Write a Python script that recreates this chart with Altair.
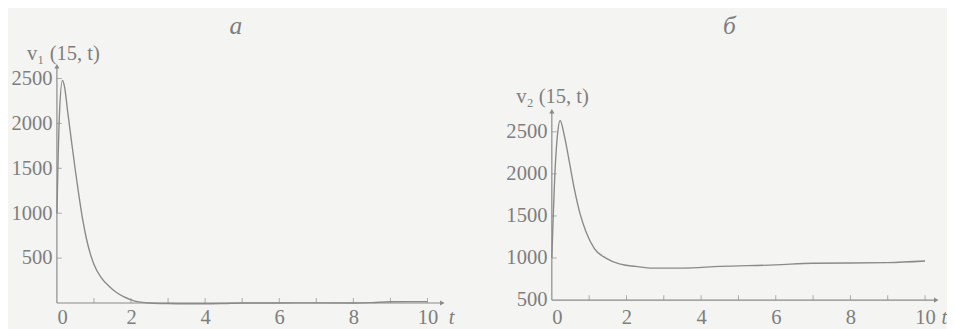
import altair as alt
import pandas as pd

# ---- data ----
t_a = [0, 0.07, 0.15, 0.2, 0.3, 0.4, 0.5, 0.6, 0.7, 0.8, 0.9, 1.0, 1.2, 1.4, 1.6, 1.8, 2.0, 2.2, 2.5,
       3.0, 3.5, 4.0, 4.5, 5.0, 6.0, 7.0, 8.0, 8.5, 9.0, 9.5, 10.0]
v_a = [1000, 2120, 2480, 2420, 2100, 1780, 1470, 1180, 920, 710, 550, 430, 280, 190, 120, 70, 35, 12, 0,
       -6, -8, -8, -5, 0, 0, 2, 0, 5, 14, 15, 15]

t_b = [0, 0.09, 0.15, 0.22, 0.35, 0.48, 0.61, 0.75, 0.92, 1.14, 1.46, 1.81, 2.25, 2.7, 3.5,
       4.5, 6.0, 7.0, 9.0, 10.0]
v_b = [1000, 2075, 2460, 2635, 2422, 2115, 1806, 1536, 1305, 1112, 996, 930, 900, 880, 880,
       900, 918, 938, 945, 964]

x_ticks = [1, 2, 3, 4, 5, 6, 7, 8, 9, 10]
x_labels = [0, 2, 4, 6, 8, 10]
y_ticks_a = [500, 1000, 1500, 2000, 2500]
y_ticks_b = [1000, 1500, 2000, 2500]
y_labels = [500, 1000, 1500, 2000, 2500]

FONT = "Liberation Serif"
INK = "#8a8a8a"
TXT = "#7e7e7e"


def panel(t, v, title, ytitle, xdom, ydom, axis_base, yaxis_top, yticks, w, h,
          title_x, ytx, yty, xtx, xty, xlabpad):
    df = pd.DataFrame({"t": t, "v": v})
    xs = alt.Scale(domain=xdom, nice=False, zero=False)
    ys = alt.Scale(domain=ydom, nice=False, zero=False)
    xax = alt.Axis(values=x_labels, format="d", domain=False, ticks=False, grid=False,
                   labelFont=FONT, labelFontSize=21, labelColor=TXT, labelPadding=xlabpad,
                   title="t", titleFont=FONT, titleFontSize=21, titleFontStyle="italic",
                   titleFontWeight="normal", titleColor=TXT, titleX=xtx, titleY=xty,
                   titleAlign="left", titleBaseline="middle")
    yax = alt.Axis(values=y_labels, format="d", domain=False, ticks=False, grid=False,
                   labelFont=FONT, labelFontSize=21, labelColor=TXT, labelPadding=5,
                   title=ytitle, titleFont=FONT, titleFontSize=21, titleFontWeight="normal",
                   titleColor=TXT, titleAngle=0, titleAlign="left", titleBaseline="middle",
                   titleX=ytx, titleY=yty)
    base = alt.Chart(df)
    line = base.mark_line(color=INK, strokeWidth=1.4, interpolate="monotone").encode(
        x=alt.X("t:Q", scale=xs, axis=xax),
        y=alt.Y("v:Q", scale=ys, axis=yax),
    )
    one = pd.DataFrame({"a": [0]})
    xline = alt.Chart(one).mark_rule(color=INK, strokeWidth=1.2).encode(
        x=alt.datum(0, scale=xs), x2=alt.datum(xdom[1]), y=alt.datum(axis_base, scale=ys))
    yline = alt.Chart(one).mark_rule(color=INK, strokeWidth=1.2).encode(
        x=alt.datum(0, scale=xs), y=alt.datum(axis_base, scale=ys), y2=alt.datum(yaxis_top))
    xt = alt.Chart(pd.DataFrame({"t": x_ticks, "b": [axis_base] * len(x_ticks)})).mark_tick(
        orient="vertical", size=5, thickness=1, color=INK, yOffset=-2.5).encode(
        x=alt.X("t:Q", scale=xs), y=alt.Y("b:Q", scale=ys))
    yt = alt.Chart(pd.DataFrame({"v": yticks, "b": [0] * len(yticks)})).mark_tick(
        orient="horizontal", size=5, thickness=1, color=INK, xOffset=2.5).encode(
        x=alt.X("b:Q", scale=xs), y=alt.Y("v:Q", scale=ys))
    arr_x = alt.Chart(one).mark_point(
        shape="triangle-right", filled=True, size=28, color=INK, opacity=1).encode(
        x=alt.datum(xdom[1], scale=xs), y=alt.datum(axis_base, scale=ys))
    arr_y = alt.Chart(one).mark_point(
        shape="triangle-up", filled=True, size=28, color=INK, opacity=1).encode(
        x=alt.datum(0, scale=xs), y=alt.datum(yaxis_top, scale=ys))
    ttl = alt.Chart(one).mark_text(font=FONT, fontSize=26, fontStyle="italic", color=TXT,
                                   baseline="alphabetic", align="center").encode(
        x=alt.datum(title_x, scale=xs), y=alt.value(-33), text=alt.value(title))
    return alt.layer(line, xline, yline, xt, yt, arr_x, arr_y, ttl).properties(
        width=w, height=h)


pa = panel(t_a, v_a, "а", "v₁ (15, t)", [0, 10.4], [0, 2636], 0, 2636, y_ticks_a, 394, 242,
           4.83, -31, -13, 400, 15, 4)
pb = panel(t_b, v_b, "б", "v₂ (15, t)", [0, 10.3], [500, 3279], 500, 2745, y_ticks_b, 393, 239,
           4.76, -37, 31, 398, 18, 7)

chart = alt.hconcat(pa, pb, spacing=53).properties(
    background="#f4f4f2",
    padding={"left": 3, "top": 2, "right": 0, "bottom": 0},
).configure_view(stroke=None)

chart.save("out.html", embed_options={"renderer": "svg", "actions": False})
